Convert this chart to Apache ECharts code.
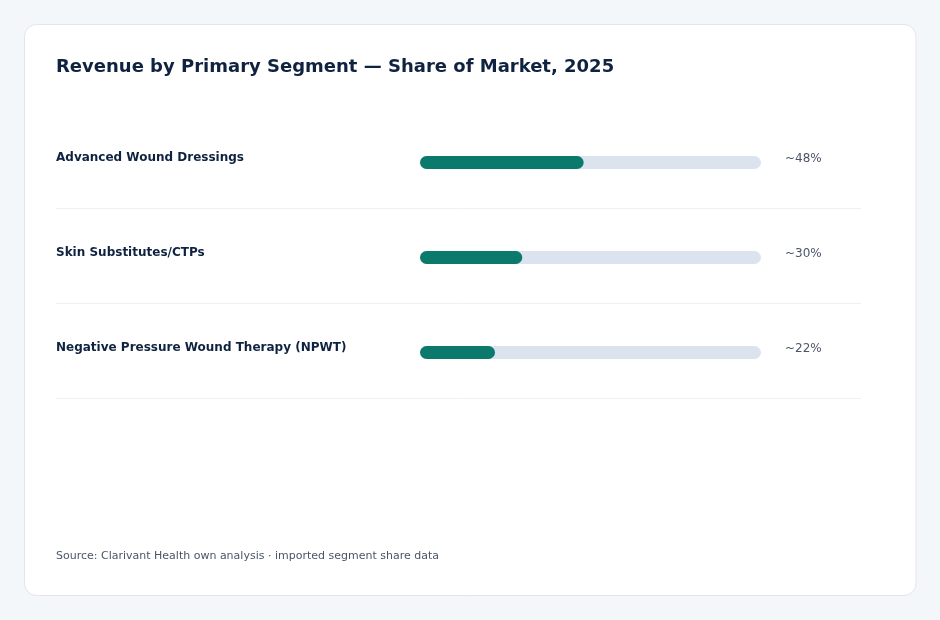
<!DOCTYPE html>
<html>
<head>
<meta charset="utf-8">
<title>Revenue by Primary Segment</title>
<script src="https://cdn.jsdelivr.net/npm/echarts@6/dist/echarts.min.js"></script>
<style>
    html, body { margin: 0; padding: 0; background: #f4f7fa; }
    #chart { width: 940px; height: 620px; }
</style>
</head>
<body>
<div id="chart"></div>
<script>
const segments = [
    "Advanced Wound Dressings",
    "Skin Substitutes/CTPs",
    "Negative Pressure Wound Therapy (NPWT)"
];
const shares = [48, 30, 22];
const shareLabels = ["~48%", "~30%", "~22%"];

const titleText = "Revenue by Primary Segment \u2014 Share of Market, 2025";
const sourceText = "Source: Clarivant Health own analysis \u00b7 imported segment share data";

const font = "DejaVu Sans, sans-serif";
const chart = echarts.init(document.getElementById("chart"));

const option = {
    backgroundColor: "#f4f7fa",
    animation: false,
    textStyle: { fontFamily: font },
    graphic: [
        {
            type: "rect",
            z: -10,
            shape: { x: 24.5, y: 24.5, width: 891.5, height: 571, r: 12 },
            style: { fill: "#ffffff", stroke: "#e1e6ed", lineWidth: 1 }
        },
        {
            type: "text",
            left: 56,
            top: 551,
            style: { text: sourceText, fill: "#4a5568", font: "11px " + font }
        }
    ],
    title: {
        text: titleText,
        left: 51,
        top: 53,
        textStyle: { fontSize: 18, fontWeight: "bold", color: "#0f2240", fontFamily: font }
    },
    grid: [
        { left: 420, width: 341, top: 115, height: 285 },
        { left: 56, width: 805, top: 113, height: 285 }
    ],
    xAxis: [
        { gridIndex: 0, type: "value", min: 0, max: 100, show: false },
        { gridIndex: 1, type: "value", min: 0, max: 100, show: false }
    ],
    yAxis: [
        {
            gridIndex: 0,
            type: "category",
            data: segments,
            inverse: true,
            axisLine: { show: false },
            axisTick: { show: false },
            axisLabel: { show: false },
            splitLine: { show: false }
        },
        {
            gridIndex: 0,
            type: "category",
            position: "right",
            data: segments,
            inverse: true,
            axisLine: { show: false },
            axisTick: { show: false },
            splitLine: { show: false },
            axisLabel: {
                margin: 24,
                align: "left",
                verticalAlign: "bottom",
                lineHeight: 7,
                color: "#4a5568",
                fontSize: 12,
                formatter: (v, i) => shareLabels[i]
            }
        },
        {
            gridIndex: 1,
            type: "category",
            data: segments,
            inverse: true,
            axisLine: { show: false },
            axisTick: { show: false },
            axisLabel: {
                inside: true,
                margin: 0,
                align: "left",
                verticalAlign: "bottom",
                lineHeight: 5,
                color: "#0f2240",
                fontSize: 12,
                fontWeight: "bold"
            },
            splitLine: {
                show: true,
                showMinLine: false,
                lineStyle: { color: "#edf0f4", width: 1 }
            }
        }
    ],
    series: [
        {
            type: "bar",
            xAxisIndex: 0,
            yAxisIndex: 0,
            data: shares,
            barWidth: 13,
            itemStyle: { color: "#0b7a6d", borderRadius: 6.5 },
            showBackground: true,
            backgroundStyle: { color: "#dbe4ee", borderRadius: 6.5 }
        }
    ]
};

chart.setOption(option);
window.addEventListener("resize", () => chart.resize());
</script>
</body>
</html>
